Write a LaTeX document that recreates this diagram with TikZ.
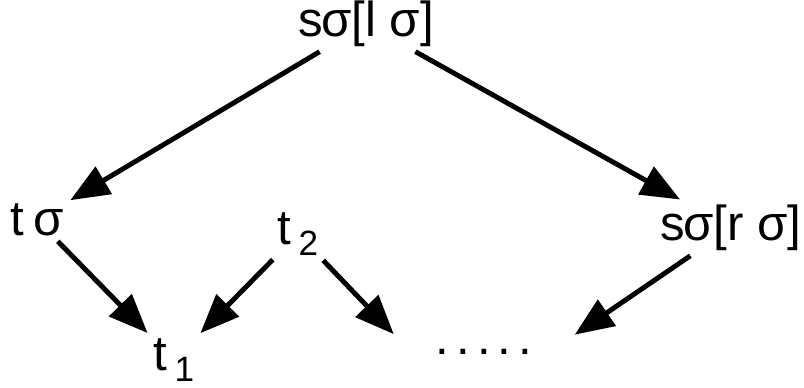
\documentclass[tikz,border=0pt]{standalone}
\usepackage{fontspec}
\setmainfont{Liberation Sans}
\usetikzlibrary{arrows.meta,positioning}
\newcommand{\lowsub}[1]{\raisebox{-0.45ex}{\fontsize{20}{20}\selectfont #1}}

\begin{document}
\begin{tikzpicture}[
    x=0.02cm, y=-0.02cm,
    every node/.style={font=\fontsize{28}{28}\selectfont, inner sep=2pt},
    arrow/.style={-{Triangle[length=0.78cm,width=0.62cm]}, line width=2.8pt, shorten >=2pt, shorten <=1pt}
  ]
    \useasboundingbox (0,0) rectangle (804,387);

    \node (top) at (366,24) {s\kern-1ptσ[l σ]};
    \node (a) at (37,220) {t\kern5ptσ};
    \node (b) at (731,228) {s\kern-1ptσ[r σ]};
    \node (c) at (298,234) {t\kern4pt\lowsub{2}};
    \node (d) at (174,360) {t\kern4pt\lowsub{1}};
    \node[minimum width=3.5cm, minimum height=0.6cm] (e) at (484,352) {.\kern4pt.\kern4pt.\kern4pt.\kern4pt.};

    \draw[arrow] (top) -- (a);
    \draw[arrow] (top) -- (b);
    \draw[arrow] (a) -- (d);
    \draw[arrow] (c) -- (d);
    \draw[arrow] (c) -- (e.north west);
    \draw[arrow] (b) -- (e.north east);
  \end{tikzpicture}
\end{document}
